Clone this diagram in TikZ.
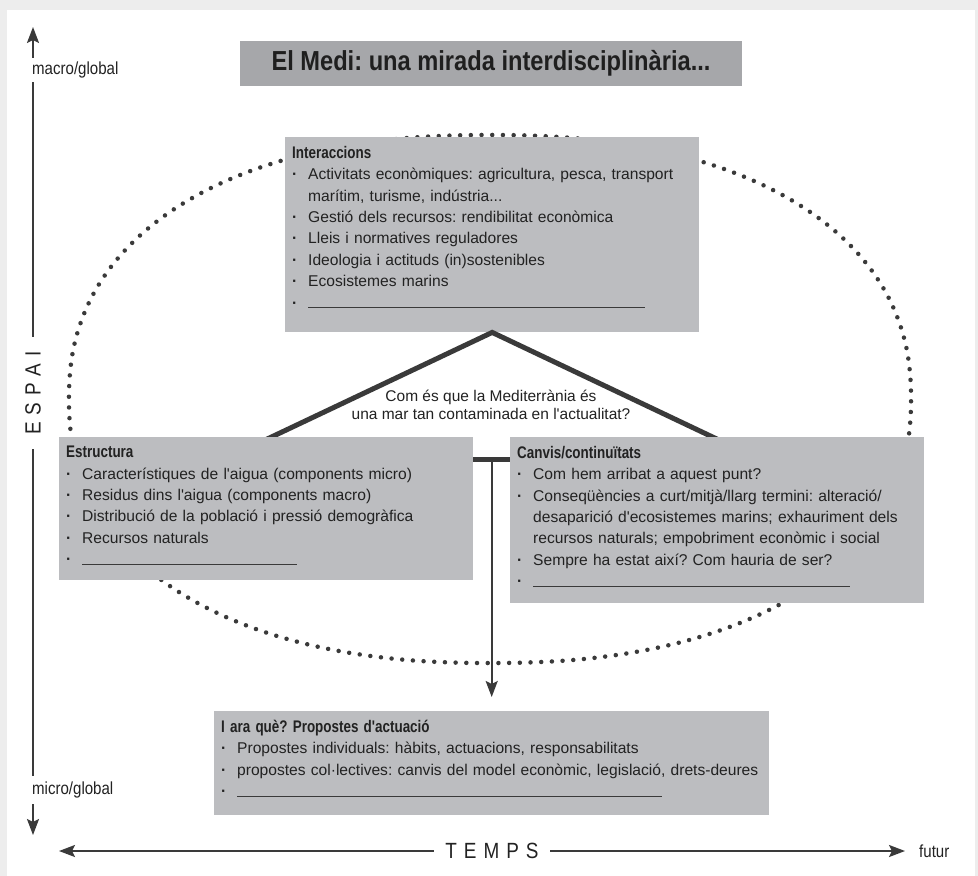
\documentclass[tikz,border=0pt]{standalone}
\usepackage{fontspec}
\setmainfont{Liberation Sans}[Ligatures=TeXOff]
\newfontfamily\condf{Liberation Sans}[FakeStretch=0.86,Ligatures=TeXOff]
\newfontfamily\hdrf{Liberation Sans}[FakeStretch=0.8,Ligatures=TeXOff]
\usetikzlibrary{arrows.meta,calc}
\definecolor{bgout}{HTML}{EDEDED}
\definecolor{boxg}{HTML}{BCBDC0}
\definecolor{titleg}{HTML}{A6A7AA}
\definecolor{ink}{HTML}{3A3A3A}
\definecolor{txt}{HTML}{222222}
\frenchspacing
\newcommand\bodyfont{\frenchspacing\fontsize{15.6}{21.4}\selectfont}
\newcommand\hdr[1]{{\hdrf\bfseries\fontsize{16.8}{21.4}\selectfont #1}\par}
\newcommand\bitem[1]{\par\noindent\hangindent=16pt\hangafter=1\makebox[16pt][l]{\textbf{·}}#1\par}
\newcommand\blank[1]{\bitem{\textcolor{ink}{\rule{#1}{0.9pt}}}}
\tikzset{
  boxst/.style={fill=boxg, draw=none, inner sep=0pt, anchor=north west},
  txtst/.style={inner sep=0pt, align=left, text=txt, font=\bodyfont, anchor=north west},
  thickln/.style={draw=ink, line width=5pt},
  arr/.style={draw=ink, line width=2pt, -{Stealth[length=16pt,width=12pt,inset=3pt]}},
  axisln/.style={draw=ink, line width=2pt, {Stealth[length=16pt,width=12pt,inset=3pt]}-{Stealth[length=16pt,width=12pt,inset=3pt]}},
  lab/.style={fill=white, inner sep=2pt, text=txt, font=\condf\fontsize{17.5}{20}\selectfont},
  dots/.style={draw=ink, line width=4.5pt, line cap=round, dash pattern=on 0pt off 10.7pt},
}
\begin{document}
\begin{tikzpicture}[x=1pt,y=1pt]
\useasboundingbox (0,0) rectangle (978,-876);
\fill[bgout] (0,0) rectangle (978,-876);
\fill[white] (7,-10) rectangle (975,-876);

% dotted oval
\draw[dots] plot[smooth cycle, domain=1:359, samples=180, variable=\t]
  ({490+421*sign(cos(\t))*abs(cos(\t))^0.889}, {-399+264*sign(sin(\t))*abs(sin(\t))^0.889});

% title
\node[fill=titleg, minimum width=502pt, minimum height=45pt, inner sep=0pt,
      font=\condf\bfseries\fontsize{27.5}{30}\selectfont, text=black!88] (title) at (491,-63.5)
  {El Medi: una mirada interdisciplinària...};

% top box
\node[boxst, minimum width=414pt, minimum height=195pt] (inter) at (285,-137) {};

% triangle connector (its ends go under the lower boxes)
\coordinate (tl) at (263,-441);
\coordinate (tr) at (721,-441);
\draw[thickln, line join=miter] (tl) -- (inter.south) -- (tr);

% lower boxes
\node[boxst, minimum width=414pt, minimum height=143pt] (estr) at (59,-437) {};
\node[boxst, minimum width=414pt, minimum height=166pt] (canv) at (510,-437) {};
\node[boxst, minimum width=555pt, minimum height=104pt] (prop) at (214,-711) {};

% question
\node[align=center, font=\fontsize{15.5}{18}\selectfont, text=txt, inner sep=0pt] (q) at (491,-405)
  {Com és que la Mediterrània és\\una mar tan contaminada en l'actualitat?};

% horizontal link and arrow down
\draw[thickln] ([yshift=-22pt]estr.north east) -- ([yshift=-22pt]canv.north west);
\coordinate (junc) at ($(prop.north |- estr.north)+(0,-22)$);
\draw[arr] (junc) -- ([yshift=14pt]prop.north);

% box texts
\node[txtst, text width=406pt] (intertxt) at ([xshift=7pt,yshift=-9pt]inter.north west) {%
\hdr{Interaccions}%
\bitem{Activitats econòmiques: agricultura, pesca, transport\newline marítim, turisme, indústria...}%
\bitem{Gestió dels recursos: rendibilitat econòmica}%
\bitem{Lleis i normatives reguladores}%
\bitem{Ideologia i actituds (in)sostenibles}%
\bitem{Ecosistemes marins}%
\blank{337pt}};

\node[txtst, text width=406pt] (estrtxt) at ([xshift=7pt,yshift=-9pt]estr.north west) {%
\hdr{Estructura}%
\bitem{Característiques de l'aigua (components micro)}%
\bitem{Residus dins l'aigua (components macro)}%
\bitem{Distribució de la població i pressió demogràfica}%
\bitem{Recursos naturals}%
\blank{215pt}};

\node[txtst, text width=406pt] (canvtxt) at ([xshift=7pt,yshift=-9pt]canv.north west) {%
\hdr{Canvis/continuïtats}%
\bitem{Com hem arribat a aquest punt?}%
\bitem{Conseqüències a curt/mitjà/llarg termini: alteració/\newline desaparició d'ecosistemes marins; exhauriment dels\newline recursos naturals; empobriment econòmic i social}%
\bitem{Sempre ha estat així? Com hauria de ser?}%
\blank{317pt}};

\node[txtst, text width=545pt] (proptxt) at ([xshift=7pt,yshift=-9pt]prop.north west) {%
\hdr{I ara què? Propostes d'actuació}%
\bitem{Propostes individuals: hàbits, actuacions, responsabilitats}%
\bitem{propostes col·lectives: canvis del model econòmic, legislació, drets-deures}%
\blank{425pt}};

% axes
\coordinate (vtop) at (33,-27);
\coordinate (vbot) at (33,-835);
\draw[axisln] (vtop) -- (vbot);
\node[lab, anchor=west, inner ysep=4pt] (macro) at (30,-70) {macro/global};
\node[lab, anchor=west, inner ysep=6pt] (micro) at (30,-790) {micro/global};
\node[lab, rotate=90, inner xsep=14pt, font=\condf\fontsize{22}{24}\selectfont] (espai) at (33,-393)
  {E\hspace{7pt}S\hspace{7pt}P\hspace{7pt}A\hspace{7pt}I};

\coordinate (hleft) at (59,-851);
\coordinate (hright) at (905,-851);
\draw[axisln] (hleft) -- (hright);
\node[lab, inner xsep=11pt, font=\condf\fontsize{22}{24}\selectfont] (temps) at (492,-851)
  {T\hspace{7pt}E\hspace{7pt}M\hspace{7pt}P\hspace{7pt}S};
\node[lab, anchor=west, fill=none] (futur) at (917,-851) {futur};
\end{tikzpicture}
\end{document}
